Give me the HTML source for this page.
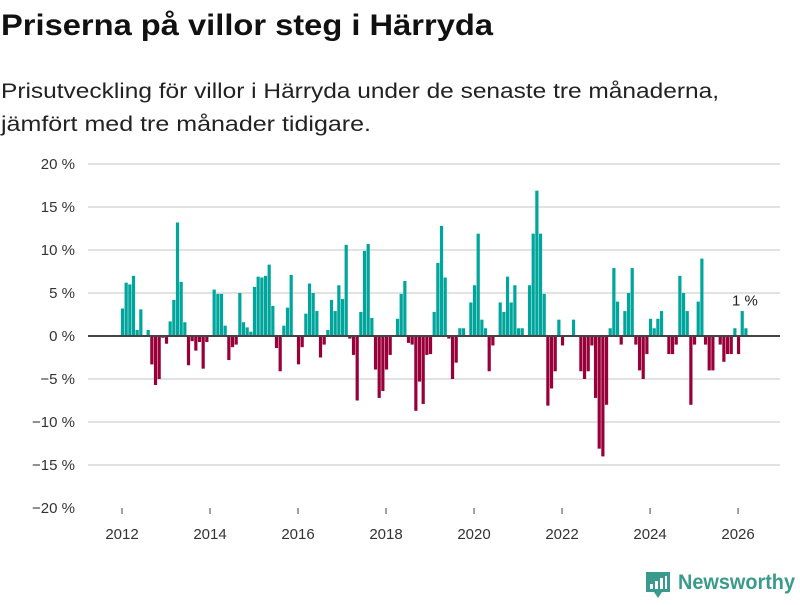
<!DOCTYPE html>
<html><head><meta charset="utf-8"><style>
body{margin:0;background:#fff;width:800px;height:600px;overflow:hidden}
svg text{font-family:"Liberation Sans","DejaVu Sans",sans-serif}
</style></head><body>
<svg id="chart" width="800" height="600" viewBox="0 0 800 600" xmlns="http://www.w3.org/2000/svg">
<text x="1" y="35" font-size="30" font-weight="bold" fill="#111" textLength="492" lengthAdjust="spacingAndGlyphs">Priserna på villor steg i Härryda</text>
<text x="1" y="98" font-size="21" fill="#222" textLength="718" lengthAdjust="spacingAndGlyphs">Prisutveckling för villor i Härryda under de senaste tre månaderna,</text>
<text x="1" y="131" font-size="21" fill="#222" textLength="370" lengthAdjust="spacingAndGlyphs">jämfört med tre månader tidigare.</text>
<g id="grid"></g>
<g id="yaxis"></g>
<g id="xaxis"></g>
<g id="bars"></g>
<line id="zero" x1="88" x2="780" stroke="#444" stroke-width="2"/>
<g>
<path d="M646 572 h24 v20 h-8 l-4 6 l-4 -6 h-8 z" fill="#3a9a8c"/>
<rect x="650" y="584" width="3" height="5" fill="#fff"/><rect x="655" y="581" width="3" height="8" fill="#fff"/><rect x="660" y="578" width="3" height="11" fill="#fff"/><rect x="665" y="576" width="2" height="13" fill="#fff"/>
<text x="678" y="589" font-size="21" font-weight="bold" fill="#3a9a8c" textLength="117" lengthAdjust="spacingAndGlyphs">Newsworthy</text>
</g>
</svg>
<script>
const startYear = 2012;
const values = [3.2,6.2,6.0,7.0,0.7,3.1,0,0.7,-3.3,-5.7,-5.0,-0.2,-0.9,1.7,4.2,13.2,6.3,1.6,-3.4,-0.6,-1.7,-0.7,-3.8,-0.7,0,5.4,4.9,4.9,1.2,-2.8,-1.3,-1.0,5.0,1.6,1.0,0.5,5.7,6.9,6.8,7.0,8.3,3.5,-1.4,-4.1,
1.2,3.3,7.1,0,-3.3,-1.3,2.6,6.1,5.0,2.9,-2.5,-1.0,0.7,4.2,2.9,5.9,4.3,10.6,-0.3,-2.2,-7.5,2.8,9.9,10.7,2.1,-3.9,-7.2,-6.4,-3.9,-2.2,0,2.0,4.9,6.4,-0.8,-1.0,-8.7,-5.3,-7.9,-2.2,-2.1,2.8,8.5,12.8,
6.8,-0.3,-5.0,-3.1,0.9,0.9,0,3.9,5.9,11.9,1.9,0.9,-4.1,-1.1,0,3.9,2.8,6.9,3.9,5.9,0.9,0.9,0,5.9,11.9,16.9,11.9,4.9,-8.1,-6.1,-4.1,1.9,-1.1,0,0,1.9,0,-4.1,-5.0,-4.1,-1.1,-7.2,-13.1,
-14.0,-8.0,0.9,7.9,4.0,-1.0,2.9,5.0,7.9,-1.0,-4.0,-5.0,-2.1,2.0,0.9,2.0,2.9,0,-2.1,-2.1,-1.0,7.0,5.0,2.9,-8.0,-1.0,4.0,9.0,-1.0,-4.0,-4.0,0,-1.0,-3.0,-2.1,-2.1,0.9,-2.1,2.9,0.9];
const yTicks = [20,15,10,5,0,-5,-10,-15,-20];
const yTickLabels = ["20 %","15 %","10 %","5 %","0 %","−5 %","−10 %","−15 %","−20 %"];
const xTickYears = [2012,2014,2016,2018,2020,2022,2024,2026];
const lastLabel = "1 %";

const NS="http://www.w3.org/2000/svg";
function y(v){return 336 - v*8.6;}
function x(monthIndex){return 122.5 + monthIndex*3.667;}
function mk(tag,attrs,parent){const e=document.createElementNS(NS,tag);for(const k in attrs)e.setAttribute(k,attrs[k]);parent.appendChild(e);return e;}
const grid=document.getElementById('grid'),yaxis=document.getElementById('yaxis'),xaxis=document.getElementById('xaxis'),bars=document.getElementById('bars');
yTicks.forEach((t,i)=>{
  if(t!==0 && t!==-20){const l=mk('line',{x1:88,x2:780,y1:y(t),y2:y(t),stroke:'#e2e2e2','stroke-width':2},grid);
  
  }
  const tx=mk('text',{x:75,y:y(t)+5,'font-size':15,fill:'#333','text-anchor':'end'},yaxis);
  tx.textContent=yTickLabels[i];
  
  
});
xTickYears.forEach(yr=>{
  const px=x((yr-startYear)*12)-0.5;
  const tk=mk('line',{x1:px,x2:px,y1:508,y2:514,stroke:'#444','stroke-width':1},xaxis);
  
  
  const tx=mk('text',{x:px,y:539,'font-size':15,fill:'#333','text-anchor':'middle'},xaxis);
  tx.textContent=String(yr);
  
  
});
values.forEach((v,i)=>{
  if(v===0)return;
  const cx=x(i);
  const r=mk('rect',{x:cx-1.6,width:3.2,y:Math.min(y(v),y(0)),height:Math.abs(y(v)-y(0)),fill:v>0?'#00a69c':'#99003a'},bars);
  
  
});
const z=document.getElementById('zero');z.setAttribute('y1',y(0));z.setAttribute('y2',y(0));
const li=values.length-1;
const lab=mk('text',{x:x(li)-1,y:y(values[li])-23,'font-size':15,fill:'#222','text-anchor':'middle'},document.getElementById('chart'));
lab.textContent=lastLabel;


</script>
</body></html>
